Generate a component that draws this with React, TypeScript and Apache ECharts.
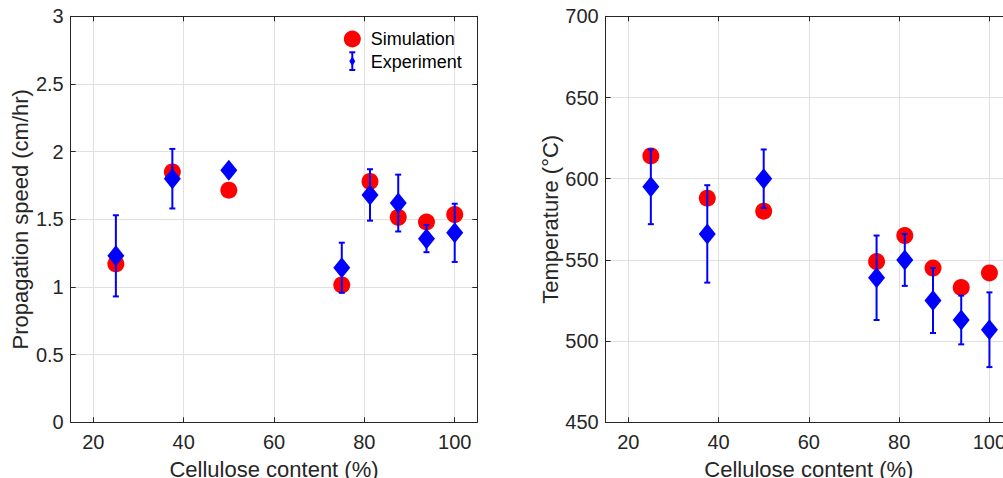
import React, { useEffect, useRef } from "react";
import * as echarts from "echarts";

const cellulose = [25, 37.5, 50, 75, 81.25, 87.5, 93.75, 100];
const speedSim = [1.17, 1.85, 1.715, 1.015, 1.78, 1.515, 1.48, 1.535];
const speedExp = [1.23, 1.8, 1.862, 1.142, 1.68, 1.62, 1.357, 1.4];
const speedErr = [0.3, 0.22, 0, 0.185, 0.19, 0.21, 0.1, 0.215];
const tempSim = [614, 588, 580, 549, 565, 545, 533, 542];
const tempExp = [595, 566, 600, 539, 550, 525, 513, 507];
const tempErr = [23, 30, 18, 26, 16, 20, 15, 23];

const FONT = "Liberation Sans, Arial, sans-serif";
const TXT = "#262626";
const GRIDC = "#e0e0e0";

function errData(xs: number[], ys: number[], es: number[]) {
  return xs.map((x, i) => [x, ys[i] - es[i], ys[i] + es[i]]);
}

function renderErr(params: any, api: any) {
  const x = api.value(0);
  const lo = api.value(1);
  const hi = api.value(2);
  const t = api.coord([x, hi]);
  const b = api.coord([x, lo]);
  const st = { stroke: "#0000ff", lineWidth: 2 };
  const w = 3;
  return {
    type: "group",
    children: [
      { type: "line", shape: { x1: t[0], y1: t[1], x2: b[0], y2: b[1] }, style: st },
      { type: "line", shape: { x1: t[0] - w, y1: t[1], x2: t[0] + w, y2: t[1] }, style: st },
      { type: "line", shape: { x1: b[0] - w, y1: b[1], x2: b[0] + w, y2: b[1] }, style: st },
    ],
  };
}

function xAxes(gi: number) {
  const common = {
    type: "value",
    gridIndex: gi,
    min: 15,
    max: 105,
    axisLine: { show: true, onZero: false, lineStyle: { color: TXT, width: 1 } },
    axisTick: { show: true, inside: true, length: 5, lineStyle: { color: TXT } },
  };
  return [
    {
      ...common,
      position: "bottom",
      name: "Cellulose content (%)",
      nameLocation: "middle",
      nameGap: 36,
      nameTextStyle: { fontFamily: FONT, fontSize: 22, color: TXT },
      axisLabel: {
        show: true,
        margin: 10,
        fontFamily: FONT,
        fontSize: 20,
        color: TXT,
        showMinLabel: false,
        showMaxLabel: false,
        formatter: (v: number) => (v % 20 === 0 ? String(v) : ""),
      },
      splitLine: { show: true, lineStyle: { color: GRIDC, width: 1 } },
    },
    {
      ...common,
      position: "top",
      axisLabel: { show: false },
      splitLine: { show: false },
    },
  ];
}

function yAxes(gi: number, min: number, max: number, interval: number, name: string, gap: number) {
  const common = {
    type: "value",
    gridIndex: gi,
    min,
    max,
    interval,
    axisLine: { show: true, onZero: false, lineStyle: { color: TXT, width: 1 } },
    axisTick: { show: true, inside: true, length: 5, lineStyle: { color: TXT } },
  };
  return [
    {
      ...common,
      position: "left",
      name,
      nameLocation: "middle",
      nameGap: gap,
      nameTextStyle: { fontFamily: FONT, fontSize: 22, color: TXT },
      axisLabel: { show: true, margin: 7, fontFamily: FONT, fontSize: 20, color: TXT },
      splitLine: { show: true, lineStyle: { color: GRIDC, width: 1 } },
    },
    {
      ...common,
      position: "right",
      axisLabel: { show: false },
      splitLine: { show: false },
    },
  ];
}

export default function App() {
  const ref = useRef<HTMLDivElement>(null);
  useEffect(() => {
    if (!ref.current) return;
    const chart = echarts.init(ref.current, null, { renderer: "svg" });
    const xa = [...xAxes(0), ...xAxes(1)];
    const ya = [
      ...yAxes(0, 0, 3, 0.5, "Propagation speed (cm/hr)", 38),
      ...yAxes(1, 450, 700, 50, "Temperature (°C)", 44),
    ];
    const mk = (gi: number, sim: number[], exp: number[], err: number[]) => {
      const xi = gi * 2;
      const yi = gi * 2;
      return [
        {
          type: "scatter",
          name: "Simulation",
          xAxisIndex: xi,
          yAxisIndex: yi,
          symbol: "circle",
          symbolSize: 17,
          itemStyle: { color: "#ff0000", opacity: 1 },
          data: cellulose.map((x, i) => [x, sim[i]]),
          z: 2,
        },
        {
          type: "custom",
          name: "ExperimentErr",
          xAxisIndex: xi,
          yAxisIndex: yi,
          renderItem: renderErr,
          encode: { x: 0, y: [1, 2] },
          data: errData(cellulose, exp, err),
          z: 3,
        },
        {
          type: "scatter",
          name: "Experiment",
          xAxisIndex: xi,
          yAxisIndex: yi,
          symbol: "diamond",
          symbolSize: [17, 21],
          itemStyle: { color: "#0000ff", opacity: 1 },
          data: cellulose.map((x, i) => [x, exp[i]]),
          z: 4,
        },
      ];
    };
    chart.setOption({
      animation: false,
      backgroundColor: "#ffffff",
      grid: [
        { left: 70.7, top: 16.3, width: 406.6, height: 406, outerBoundsMode: "none", containLabel: false },
        { left: 605.7, top: 16.3, width: 406.3, height: 406, outerBoundsMode: "none", containLabel: false },
      ],
      xAxis: xa,
      yAxis: ya,
      series: [...mk(0, speedSim, speedExp, speedErr), ...mk(1, tempSim, tempExp, tempErr)],
      graphic: [
        { type: "circle", shape: { cx: 352.3, cy: 39, r: 8.5 }, style: { fill: "#ff0000" }, z: 10 },
        {
          type: "text",
          x: 370.7,
          y: 39,
          style: { text: "Simulation", font: `18px ${FONT}`, fill: "#000000", textVerticalAlign: "middle" },
          z: 10,
        },
        { type: "line", shape: { x1: 352.3, y1: 52.3, x2: 352.3, y2: 70 }, style: { stroke: "#0000ff", lineWidth: 2 }, z: 10 },
        { type: "line", shape: { x1: 349.3, y1: 52.3, x2: 355.3, y2: 52.3 }, style: { stroke: "#0000ff", lineWidth: 2 }, z: 10 },
        { type: "line", shape: { x1: 349.3, y1: 70, x2: 355.3, y2: 70 }, style: { stroke: "#0000ff", lineWidth: 2 }, z: 10 },
        {
          type: "polygon",
          shape: { points: [[352.3, 56.5], [355.3, 61.2], [352.3, 65.9], [349.3, 61.2]] },
          style: { fill: "#0000ff" },
          z: 10,
        },
        {
          type: "text",
          x: 370.7,
          y: 61.5,
          style: { text: "Experiment", font: `18px ${FONT}`, fill: "#000000", textVerticalAlign: "middle" },
          z: 10,
        },
      ],
    });
    return () => chart.dispose();
  }, []);
  return (
    <div
      ref={ref}
      style={{ position: "absolute", left: 0, top: 0, width: 1003, height: 478, background: "#fff" }}
    />
  );
}
